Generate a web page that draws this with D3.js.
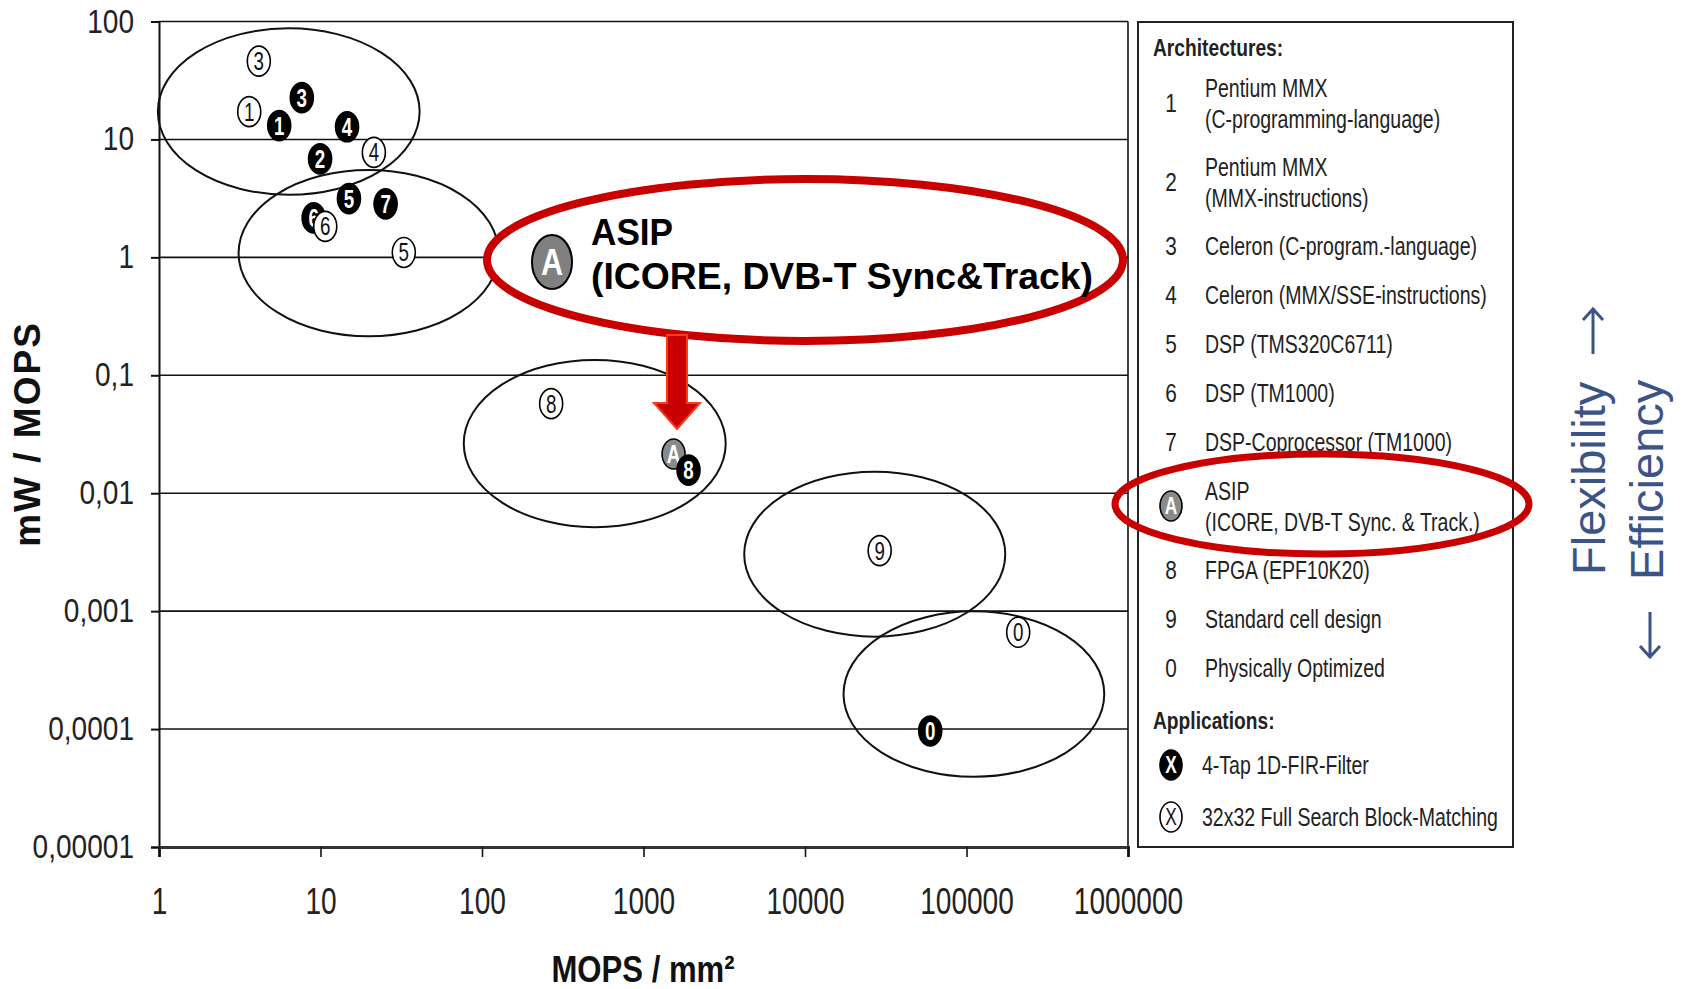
<!DOCTYPE html>
<html>
<head>
<meta charset="utf-8">
<script src="https://cdn.jsdelivr.net/npm/d3@7"></script>
<style>
  body { margin: 0; background: #fff; }
  svg { display: block; }
</style>
</head>
<body>
<div class="chart"></div>
<script>
// axis ticks
var xTicks = [1, 10, 100, 1000, 10000, 100000, 1000000];
var yTicks = [100, 10, 1, 0.1, 0.01, 0.001, 0.0001, 0.00001];
var yTickLabels = ["100", "10", "1", "0,1", "0,01", "0,001", "0,0001", "0,00001"];

// 4-Tap 1D-FIR-Filter (filled markers)
var firLabels = ["3", "1", "4", "2", "5", "7", "6", "A", "8", "0"];
var firX = [7.66, 5.55, 14.6, 9.94, 15.0, 25.3, 9.07, 1535, 1900, 59600];
var firY = [22.6, 13.1, 12.8, 6.84, 3.15, 2.84, 2.16, 0.0215, 0.0157, 0.0000964];

// 32x32 Full Search Block-Matching (open markers)
var bmLabels = ["3", "1", "4", "6", "5", "8", "9", "0"];
var bmX = [4.15, 3.62, 21.4, 10.7, 32.8, 268, 29000, 209000];
var bmY = [46.1, 17.2, 7.76, 1.83, 1.10, 0.0575, 0.00326, 0.000662];

// cluster ellipses (data extents)
var clXMin = [0.984, 3.11, 77.1, 4203, 17320];
var clXMax = [41.1, 126.7, 3228, 173800, 713000];
var clYMin = [3.39, 0.214, 0.00515, 0.000608, 0.0000394];
var clYMax = [87.6, 5.51, 0.135, 0.0152, 0.000996];

// legend
var archNums = ["1", "2", "3", "4", "5", "6", "7", "A", "8", "9", "0"];
var archNames = [
  ["Pentium MMX", "(C-programming-language)"],
  ["Pentium MMX", "(MMX-instructions)"],
  ["Celeron (C-program.-language)"],
  ["Celeron (MMX/SSE-instructions)"],
  ["DSP (TMS320C6711)"],
  ["DSP (TM1000)"],
  ["DSP-Coprocessor (TM1000)"],
  ["ASIP", "(ICORE, DVB-T Sync. & Track.)"],
  ["FPGA (EPF10K20)"],
  ["Standard cell design"],
  ["Physically Optimized"]
];
var appNames = ["4-Tap 1D-FIR-Filter", "32x32 Full Search Block-Matching"];

var sans = "'Liberation Sans', Arial, sans-serif";
var red = "#c80000";

// fake a narrow face: squeeze each text horizontally
function squeeze(sel, f) {
  sel.each(function() {
    var w = this.getComputedTextLength();
    d3.select(this).attr("textLength", w * f).attr("lengthAdjust", "spacingAndGlyphs");
  });
}

var width = 1684, height = 989;
var svg = d3.select(".chart").append("svg")
  .attr("width", width).attr("height", height);
svg.append("rect").attr("width", width).attr("height", height).attr("fill", "#fff");

var x = d3.scaleLog().domain([1, 1000000]).range([159, 1128]);
var y = d3.scaleLog().domain([0.00001, 100]).range([847, 21.5]);

// gridlines
svg.append("g").selectAll("line").data(yTicks).enter().append("line")
  .attr("x1", x(1)).attr("x2", x(1000000))
  .attr("y1", function(d) { return y(d); }).attr("y2", function(d) { return y(d); })
  .attr("stroke", "#111").attr("stroke-width", 1.6);
// right border
svg.append("line").attr("x1", x(1000000)).attr("x2", x(1000000))
  .attr("y1", y(100)).attr("y2", y(0.00001) + 10)
  .attr("stroke", "#111").attr("stroke-width", 1.6);

// y axis
var yAxis = d3.axisLeft(y).tickValues(yTicks).tickSize(8).tickPadding(17)
  .tickFormat(function(d, i) { return yTickLabels[i]; });
var gy = svg.append("g").attr("transform", "translate(" + x(1) + ",0)").call(yAxis);
gy.select(".domain").attr("stroke", "#111").attr("stroke-width", 2);
gy.selectAll(".tick line").attr("stroke", "#111").attr("stroke-width", 2);
gy.selectAll(".tick text").attr("font-family", sans).attr("font-size", 33).attr("fill", "#222")
  .call(squeeze, 0.85);

// x axis
var xAxis = d3.axisBottom(x).tickValues(xTicks).tickSize(10).tickPadding(31)
  .tickFormat(d3.format("d"));
var gx = svg.append("g").attr("transform", "translate(0," + y(0.00001) + ")").call(xAxis);
gx.select(".domain").attr("stroke", "#333").attr("stroke-width", 3);
gx.selectAll(".tick line").attr("stroke", "#111").attr("stroke-width", 1.6);
gx.selectAll(".tick text").attr("font-family", sans).attr("font-size", 36).attr("fill", "#222")
  .call(squeeze, 0.78);

// axis titles
svg.append("text").attr("transform", "translate(40,434) rotate(-90)")
  .attr("text-anchor", "middle").attr("font-family", sans).attr("font-weight", "bold")
  .attr("font-size", 37).attr("letter-spacing", 2).attr("fill", "#111").text("mW / MOPS");
svg.append("text").attr("x", 643).attr("y", 982)
  .attr("text-anchor", "middle").attr("font-family", sans).attr("font-weight", "bold")
  .attr("font-size", 37).attr("fill", "#111").text("MOPS / mm²")
  .call(squeeze, 0.84);

// cluster ellipses
svg.append("g").selectAll("ellipse").data(clXMin).enter().append("ellipse")
  .attr("cx", function(d, i) { return (x(clXMin[i]) + x(clXMax[i])) / 2; })
  .attr("cy", function(d, i) { return (y(clYMin[i]) + y(clYMax[i])) / 2; })
  .attr("rx", function(d, i) { return (x(clXMax[i]) - x(clXMin[i])) / 2; })
  .attr("ry", function(d, i) { return (y(clYMin[i]) - y(clYMax[i])) / 2; })
  .attr("fill", "none").attr("stroke", "#111").attr("stroke-width", 2);

function marker(g, cx, cy, label, kind, rx, ry, fs) {
  var fill = kind === "fir" ? "#000" : kind === "asip" ? "#8a8a8a" : "#fff";
  var col = kind === "bm" ? "#111" : "#fff";
  g.append("ellipse").attr("cx", cx).attr("cy", cy).attr("rx", rx).attr("ry", ry)
    .attr("fill", fill).attr("stroke", "#000").attr("stroke-width", 1.6);
  g.append("text").attr("x", cx).attr("y", cy).attr("dy", "0.36em")
    .attr("text-anchor", "middle").attr("font-family", sans)
    .attr("font-weight", kind === "bm" ? "normal" : "bold")
    .attr("font-size", fs).attr("fill", col).text(label)
    .call(squeeze, 0.75);
}

// filled markers (FIR)
var gFir = svg.append("g");
firLabels.forEach(function(l, i) {
  marker(gFir, x(firX[i]), y(firY[i]), l, l === "A" ? "asip" : "fir", 11.5, 15, 25);
});
// open markers (block matching)
var gBm = svg.append("g");
bmLabels.forEach(function(l, i) {
  marker(gBm, x(bmX[i]), y(bmY[i]), l, "bm", 11.5, 15, 25);
});

// callout
var call = svg.append("g");
call.append("ellipse").attr("cx", 805).attr("cy", 260).attr("rx", 318).attr("ry", 81)
  .attr("fill", "#fff").attr("stroke", red).attr("stroke-width", 8);
call.append("ellipse").attr("cx", 552).attr("cy", 262).attr("rx", 20).attr("ry", 27)
  .attr("fill", "#808080").attr("stroke", "#000").attr("stroke-width", 2);
call.append("text").attr("x", 552).attr("y", 262).attr("dy", "0.36em").attr("text-anchor", "middle")
  .attr("font-family", sans).attr("font-weight", "bold").attr("font-size", 36).attr("fill", "#fff").text("A")
  .call(squeeze, 0.85);
call.append("text").attr("x", 591).attr("y", 245).attr("font-family", sans).attr("font-weight", "bold")
  .attr("font-size", 37).attr("fill", "#000").text("ASIP").call(squeeze, 0.95);
call.append("text").attr("x", 591).attr("y", 289).attr("font-family", sans).attr("font-weight", "bold")
  .attr("font-size", 37).attr("fill", "#000").text("(ICORE, DVB-T Sync&Track)")
  .attr("textLength", 502).attr("lengthAdjust", "spacingAndGlyphs");
call.append("path")
  .attr("d", "M667,335 L687,335 L687,403 L700,403 L677,429 L654,403 L667,403 Z")
  .attr("fill", red).attr("stroke", "#ff3a10").attr("stroke-width", 2);

// legend box
var lg = svg.append("g");
lg.append("rect").attr("x", 1138).attr("y", 22).attr("width", 375).attr("height", 825)
  .attr("fill", "#fff").attr("stroke", "#222").attr("stroke-width", 2);
lg.append("text").attr("x", 1153).attr("y", 47).attr("dy", "0.36em")
  .attr("font-family", sans).attr("font-weight", "bold").attr("font-size", 24).attr("fill", "#222")
  .text("Architectures:").call(squeeze, 0.8);

var cursor = 63.5;
archNums.forEach(function(n, i) {
  var lines = archNames[i];
  var h = lines.length > 1 ? 79 : 49;
  var cy = cursor + h / 2;
  cursor += h;
  if (n === "A") {
    marker(lg, 1171, cy, "A", "asip", 11, 15, 23);
  } else {
    lg.append("text").attr("x", 1171).attr("y", cy).attr("dy", "0.36em").attr("text-anchor", "middle")
      .attr("font-family", sans).attr("font-size", 26).attr("fill", "#222").text(n)
      .call(squeeze, 0.8);
  }
  lines.forEach(function(t, j) {
    var ty = lines.length > 1 ? cy + (j === 0 ? -15 : 16) : cy;
    lg.append("text").attr("x", 1205).attr("y", ty).attr("dy", "0.36em")
      .attr("font-family", sans).attr("font-size", 25).attr("fill", "#222").text(t)
      .call(squeeze, 0.78);
  });
});

lg.append("text").attr("x", 1153).attr("y", 720).attr("dy", "0.36em")
  .attr("font-family", sans).attr("font-weight", "bold").attr("font-size", 24).attr("fill", "#222")
  .text("Applications:").call(squeeze, 0.8);
appNames.forEach(function(t, i) {
  var cy = 765 + i * 52;
  marker(lg, 1171, cy, "X", i === 0 ? "fir" : "bm", 11, 15, 23);
  lg.append("text").attr("x", 1202).attr("y", cy).attr("dy", "0.36em")
    .attr("font-family", sans).attr("font-size", 25).attr("fill", "#222").text(t)
    .call(squeeze, 0.78);
});

// legend highlight
svg.append("ellipse").attr("cx", 1322).attr("cy", 504).attr("rx", 207).attr("ry", 50)
  .attr("fill", "none").attr("stroke", red).attr("stroke-width", 7);

// flexibility / efficiency
var blue = "#3b5486";
svg.append("text").attr("transform", "translate(1605,575) rotate(-90)")
  .attr("font-family", sans).attr("font-size", 47).attr("fill", blue).text("Flexibility");
svg.append("text").attr("transform", "translate(1663,580) rotate(-90)")
  .attr("font-family", sans).attr("font-size", 47).attr("fill", blue).text("Efficiency");
svg.append("path").attr("d", "M1593,354 L1593,309 M1583,320 L1593,309 L1603,320")
  .attr("fill", "none").attr("stroke", blue).attr("stroke-width", 3);
svg.append("path").attr("d", "M1650,612 L1650,657 M1640,646 L1650,657 L1660,646")
  .attr("fill", "none").attr("stroke", blue).attr("stroke-width", 3);
</script>
</body>
</html>
